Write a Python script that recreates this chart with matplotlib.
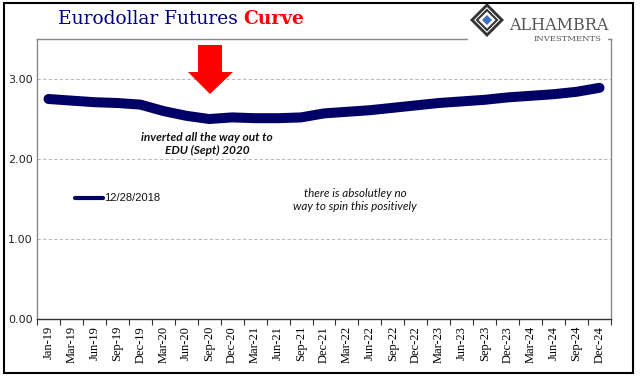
import matplotlib
matplotlib.use("Agg")
import matplotlib.pyplot as plt
from matplotlib.patches import Polygon, Rectangle
from matplotlib.lines import Line2D

categories = ["Jan-19", "Mar-19", "Jun-19", "Sep-19", "Dec-19", "Mar-20", "Jun-20",
              "Sep-20", "Dec-20", "Mar-21", "Jun-21", "Sep-21", "Dec-21", "Mar-22",
              "Jun-22", "Sep-22", "Dec-22", "Mar-23", "Jun-23", "Sep-23", "Dec-23",
              "Mar-24", "Jun-24", "Sep-24", "Dec-24"]
curve_values = [2.75, 2.73, 2.71, 2.70, 2.68, 2.60, 2.54, 2.50, 2.52, 2.51, 2.51,
                2.52, 2.57, 2.59, 2.61, 2.64, 2.67, 2.70, 2.72, 2.74, 2.77, 2.79,
                2.81, 2.84, 2.89]
series_label = "12/28/2018"
y_ticks = [0.0, 1.0, 2.0, 3.0]

W, H = 641, 381
fig = plt.figure(figsize=(W / 100, H / 100), dpi=100)

def fx(px):
    return px / W

def fy(py):
    return 1 - py / H

ax = fig.add_axes([fx(37), fy(319), fx(611) - fx(37), fy(39) - fy(319)])
x = list(range(len(categories)))
navy = "#000066"
ax.plot(x, curve_values, color=navy, lw=7.2, solid_capstyle="round",
        solid_joinstyle="round", zorder=3)
ax.set_xlim(-0.5, len(categories) - 0.5)
ax.set_ylim(0, 3.5)
ax.set_yticks(y_ticks)
ax.set_yticklabels([f"{v:.2f}" for v in y_ticks], fontsize=8,
                   family="DejaVu Sans", color="#222222")
ax.tick_params(axis="y", length=0, pad=3)
ax.set_xticks(x)
ax.set_xticklabels(categories, rotation=90, fontsize=9, family="Liberation Serif")
ax.tick_params(axis="x", length=0, pad=5)
ax.set_xticks([i - 0.5 for i in range(len(categories) + 1)], minor=True)
ax.tick_params(axis="x", which="minor", length=4, width=0.8, color="#333333",
               direction="out")
for yv in y_ticks[1:]:
    ax.axhline(yv, color="#bbbbbb", lw=0.8, ls=(0, (3, 2)), zorder=1)
for s in ["left", "top", "right"]:
    ax.spines[s].set_color("#888888")
    ax.spines[s].set_linewidth(1)
ax.spines["bottom"].set_color("#333333")
ax.spines["bottom"].set_linewidth(1)

# legend
fig.add_artist(Line2D([fx(75), fx(103)], [fy(198), fy(198)], color=navy, lw=3,
                      solid_capstyle="round"))
fig.text(fx(104), fy(198), series_label, fontsize=8, family="Liberation Sans",
         va="center", ha="left", color="#111111")

# annotations
fig.text(fx(207), fy(144), "inverted all the way out to\nEDU (Sept) 2020",
         fontsize=8.6, style="italic", weight="bold", family="Lato",
         ha="center", va="center", linespacing=1.25, color="#111111")
fig.text(fx(355), fy(200), "there is absolutley no\nway to spin this positively",
         fontsize=8.4, style="italic", family="Lato",
         ha="center", va="center", linespacing=1.25, color="#111111")

# red arrow
arrow_pts = [(198, 45), (222, 45), (222, 72), (233, 72), (210, 94), (188, 72), (198, 72)]
fig.add_artist(Polygon([(fx(a), fy(b)) for a, b in arrow_pts], closed=True,
                       facecolor="#ff0000", edgecolor="none", zorder=5))

# title
t1 = fig.text(fx(58), fy(19), "Eurodollar Futures ", fontsize=13.4,
              family="DejaVu Serif", color="#000080", va="center", ha="left")
fig.canvas.draw()
bb = t1.get_window_extent()
fig.text(bb.x1 / W, fy(19), "Curve", fontsize=13.4, family="DejaVu Serif",
         weight="bold", color="#ff0000", va="center", ha="left")

# logo
fig.add_artist(Rectangle((fx(468), fy(47)), fx(140), fy(0) - fy(47) - 0.01,
                         facecolor="white", edgecolor="none", zorder=4))
cx, cy = 487, 20
def diamond(r):
    return [(fx(cx), fy(cy - r)), (fx(cx + r), fy(cy)), (fx(cx), fy(cy + r)), (fx(cx - r), fy(cy))]
fig.add_artist(Polygon(diamond(17), closed=True, facecolor="#333333", edgecolor="none", zorder=5))
fig.add_artist(Polygon(diamond(13), closed=True, facecolor="white", edgecolor="none", zorder=5))
fig.add_artist(Polygon(diamond(10), closed=True, facecolor="none", edgecolor="#333333", lw=1.5, zorder=5))
fig.add_artist(Polygon(diamond(5), closed=True, facecolor="#3a6fc4", edgecolor="none", zorder=6))
fig.text(fx(509), fy(25), "ALHAMBRA", fontsize=11.5, family="DejaVu Serif",
         color="#555555", va="center", ha="left", zorder=6)
fig.text(fx(568), fy(39), "INVESTMENTS", fontsize=6, family="DejaVu Serif",
         color="#555555", va="center", ha="center", zorder=6)

# outer border
fig.add_artist(Rectangle((fx(4), fy(373)), fx(633) - fx(4), fy(3) - fy(373),
                         facecolor="none", edgecolor="black", lw=1.5, zorder=10))

fig.savefig("out.png", dpi=100)
